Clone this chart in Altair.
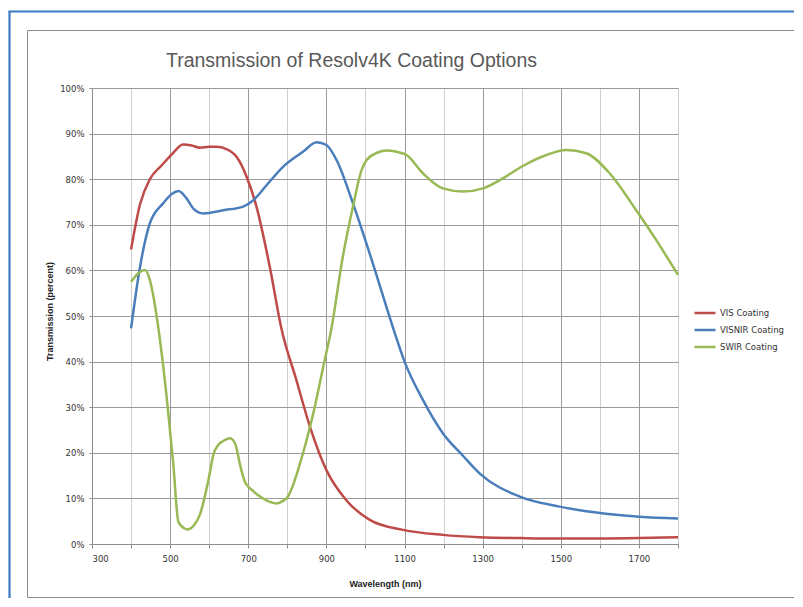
import altair as alt
import pandas as pd

# ---- data ----
series = ["VIS Coating", "VISNIR Coating", "SWIR Coating"]
colors = ["#BE4B48", "#4A7EBB", "#98B954"]

vis_nm = [400, 423, 448, 478, 505, 533, 555, 576, 600, 619, 644, 670, 696, 721, 755, 785,
          823, 858, 900, 951, 1011, 1096, 1198, 1292, 1400, 1500, 1600, 1700, 1800]
vis_pct = [64.6, 74.5, 80.0, 83.0, 85.5, 87.6, 87.4, 86.9, 87.1, 87.1, 86.6, 84.9, 80.5, 74.0, 60.8, 47.2,
           36.0, 25.7, 16.2, 9.6, 5.3, 3.1, 2.0, 1.5, 1.3, 1.2, 1.2, 1.3, 1.5]

visnir_nm = [400, 423, 448, 482, 505, 521, 542, 560, 585, 636, 687, 713, 750, 789, 840, 875, 900,
             926, 968, 1019, 1071, 1100, 1147, 1198, 1250, 1292, 1395, 1497, 1591, 1701, 1800]
visnir_pct = [47.3, 60.8, 70.3, 74.7, 76.8, 77.4, 75.8, 73.5, 72.5, 73.2, 74.0, 75.4, 79.0, 82.7, 86.0, 88.1, 87.5,
              84.2, 74.7, 61.5, 47.3, 40.0, 31.6, 24.3, 19.3, 15.5, 10.4, 8.2, 6.9, 6.0, 5.6]

swir_nm = [400, 420, 436, 448, 470, 491, 508, 521, 535, 546, 560, 576, 598, 612, 623, 640, 653, 666,
           680, 691, 710, 730, 772, 790, 798, 840, 870, 892, 913, 940, 968, 990, 1003, 1030, 1054,
           1080, 1105, 1147, 1198, 1250, 1301, 1352, 1403, 1463, 1514, 1565, 1625, 1693, 1744, 1800]
swir_pct = [57.5, 59.5, 60.1, 57.9, 47.3, 32.3, 17.7, 4.9, 3.5, 3.2, 4.0, 6.4, 14.0, 20.0, 21.7, 22.8, 23.2, 22.1,
            17.0, 13.7, 11.8, 10.4, 8.9, 9.5, 10.0, 19.9, 30.0, 38.9, 47.3, 62.0, 74.0, 82.0, 84.2, 85.8, 86.3,
            86.0, 85.3, 81.3, 78.0, 77.3, 78.0, 80.2, 82.9, 85.3, 86.4, 85.7, 81.3, 73.2, 66.7, 59.0]

x_ticks = list(range(300, 1801, 100))
y_ticks = list(range(0, 101, 10))
title_text = "Transmission of Resolv4K Coating Options"

rows = []
for name, xs, ys in [(series[0], vis_nm, vis_pct), (series[1], visnir_nm, visnir_pct), (series[2], swir_nm, swir_pct)]:
    for x, y in zip(xs, ys):
        rows.append({"series": name, "nm": x, "pct": y})
df = pd.DataFrame(rows)

W, H = 586, 456

one = pd.DataFrame({"t": [title_text]})

outer_left = alt.Chart(one).mark_rule(color="#3D7BC4", strokeWidth=2.2).encode(
    x=alt.value(-82.5), y=alt.value(-76.5), y2=alt.value(520))
outer_top = alt.Chart(one).mark_rule(color="#3D7BC4", strokeWidth=2.2).encode(
    x=alt.value(-83.5), x2=alt.value(710), y=alt.value(-76.5))
inner = alt.Chart(one).mark_rect(fillOpacity=0, stroke="#8C8C8C", strokeWidth=1).encode(
    x=alt.value(-64.5), x2=alt.value(702.5), y=alt.value(-57.5), y2=alt.value(509.5))

title = alt.Chart(one).mark_text(font="Liberation Sans", fontSize=19.5, color="#595959",
                                 align="center", baseline="alphabetic").encode(
    text="t:N", x=alt.value(259.5), y=alt.value(-21))

lines = alt.Chart(df).mark_line(interpolate="monotone", strokeWidth=2.5).encode(
    x=alt.X("nm:Q", scale=alt.Scale(domain=[300, 1800], nice=False, zero=False),
            axis=alt.Axis(values=x_ticks, format="d",
                          labelExpr="datum.value % 200 == 100 ? datum.label : ''",
                          title="Wavelength (nm)", grid=True,
                          gridColor={"condition": {"test": "datum.value % 200 == 100", "value": "#9A9A9A"},
                                     "value": "#CFCFCF"},
                          tickSize=4, labelPadding=6, titleY=35)),
    y=alt.Y("pct:Q", scale=alt.Scale(domain=[0, 100], nice=False),
            axis=alt.Axis(values=y_ticks, labelExpr="datum.value + '%'",
                          title="Transmission  (percent)", grid=True, gridColor="#9A9A9A",
                          tickSize=3, labelPadding=5, titleX=-38, titleY=223)),
    color=alt.Color("series:N", scale=alt.Scale(domain=series, range=colors),
                    legend=alt.Legend(orient="none", legendX=601, legendY=213, title=None,
                                      symbolType="stroke", symbolSize=441, symbolStrokeWidth=2.5,
                                      labelFont="DejaVu Sans", labelFontSize=8.5, labelColor="#333333",
                                      labelOffset=3, rowPadding=-1, padding=0)),
    detail="series:N",
)

chart = alt.layer(outer_left, outer_top, inner, title, lines).properties(
    width=W, height=H,
    autosize=alt.AutoSizeParams(type="none"),
    padding={"left": 84, "top": 80, "right": 116, "bottom": 54},
    background="white",
).configure_view(strokeWidth=0).configure_axis(
    labelFont="DejaVu Sans", labelFontSize=8.5, labelColor="#333333",
    titleFont="Liberation Sans", titleFontSize=9, titleFontWeight="bold", titleColor="#222222",
    domainColor="#8C8C8C", tickColor="#8C8C8C",
)

chart.save("out.html", embed_options={"renderer": "svg", "actions": False})
